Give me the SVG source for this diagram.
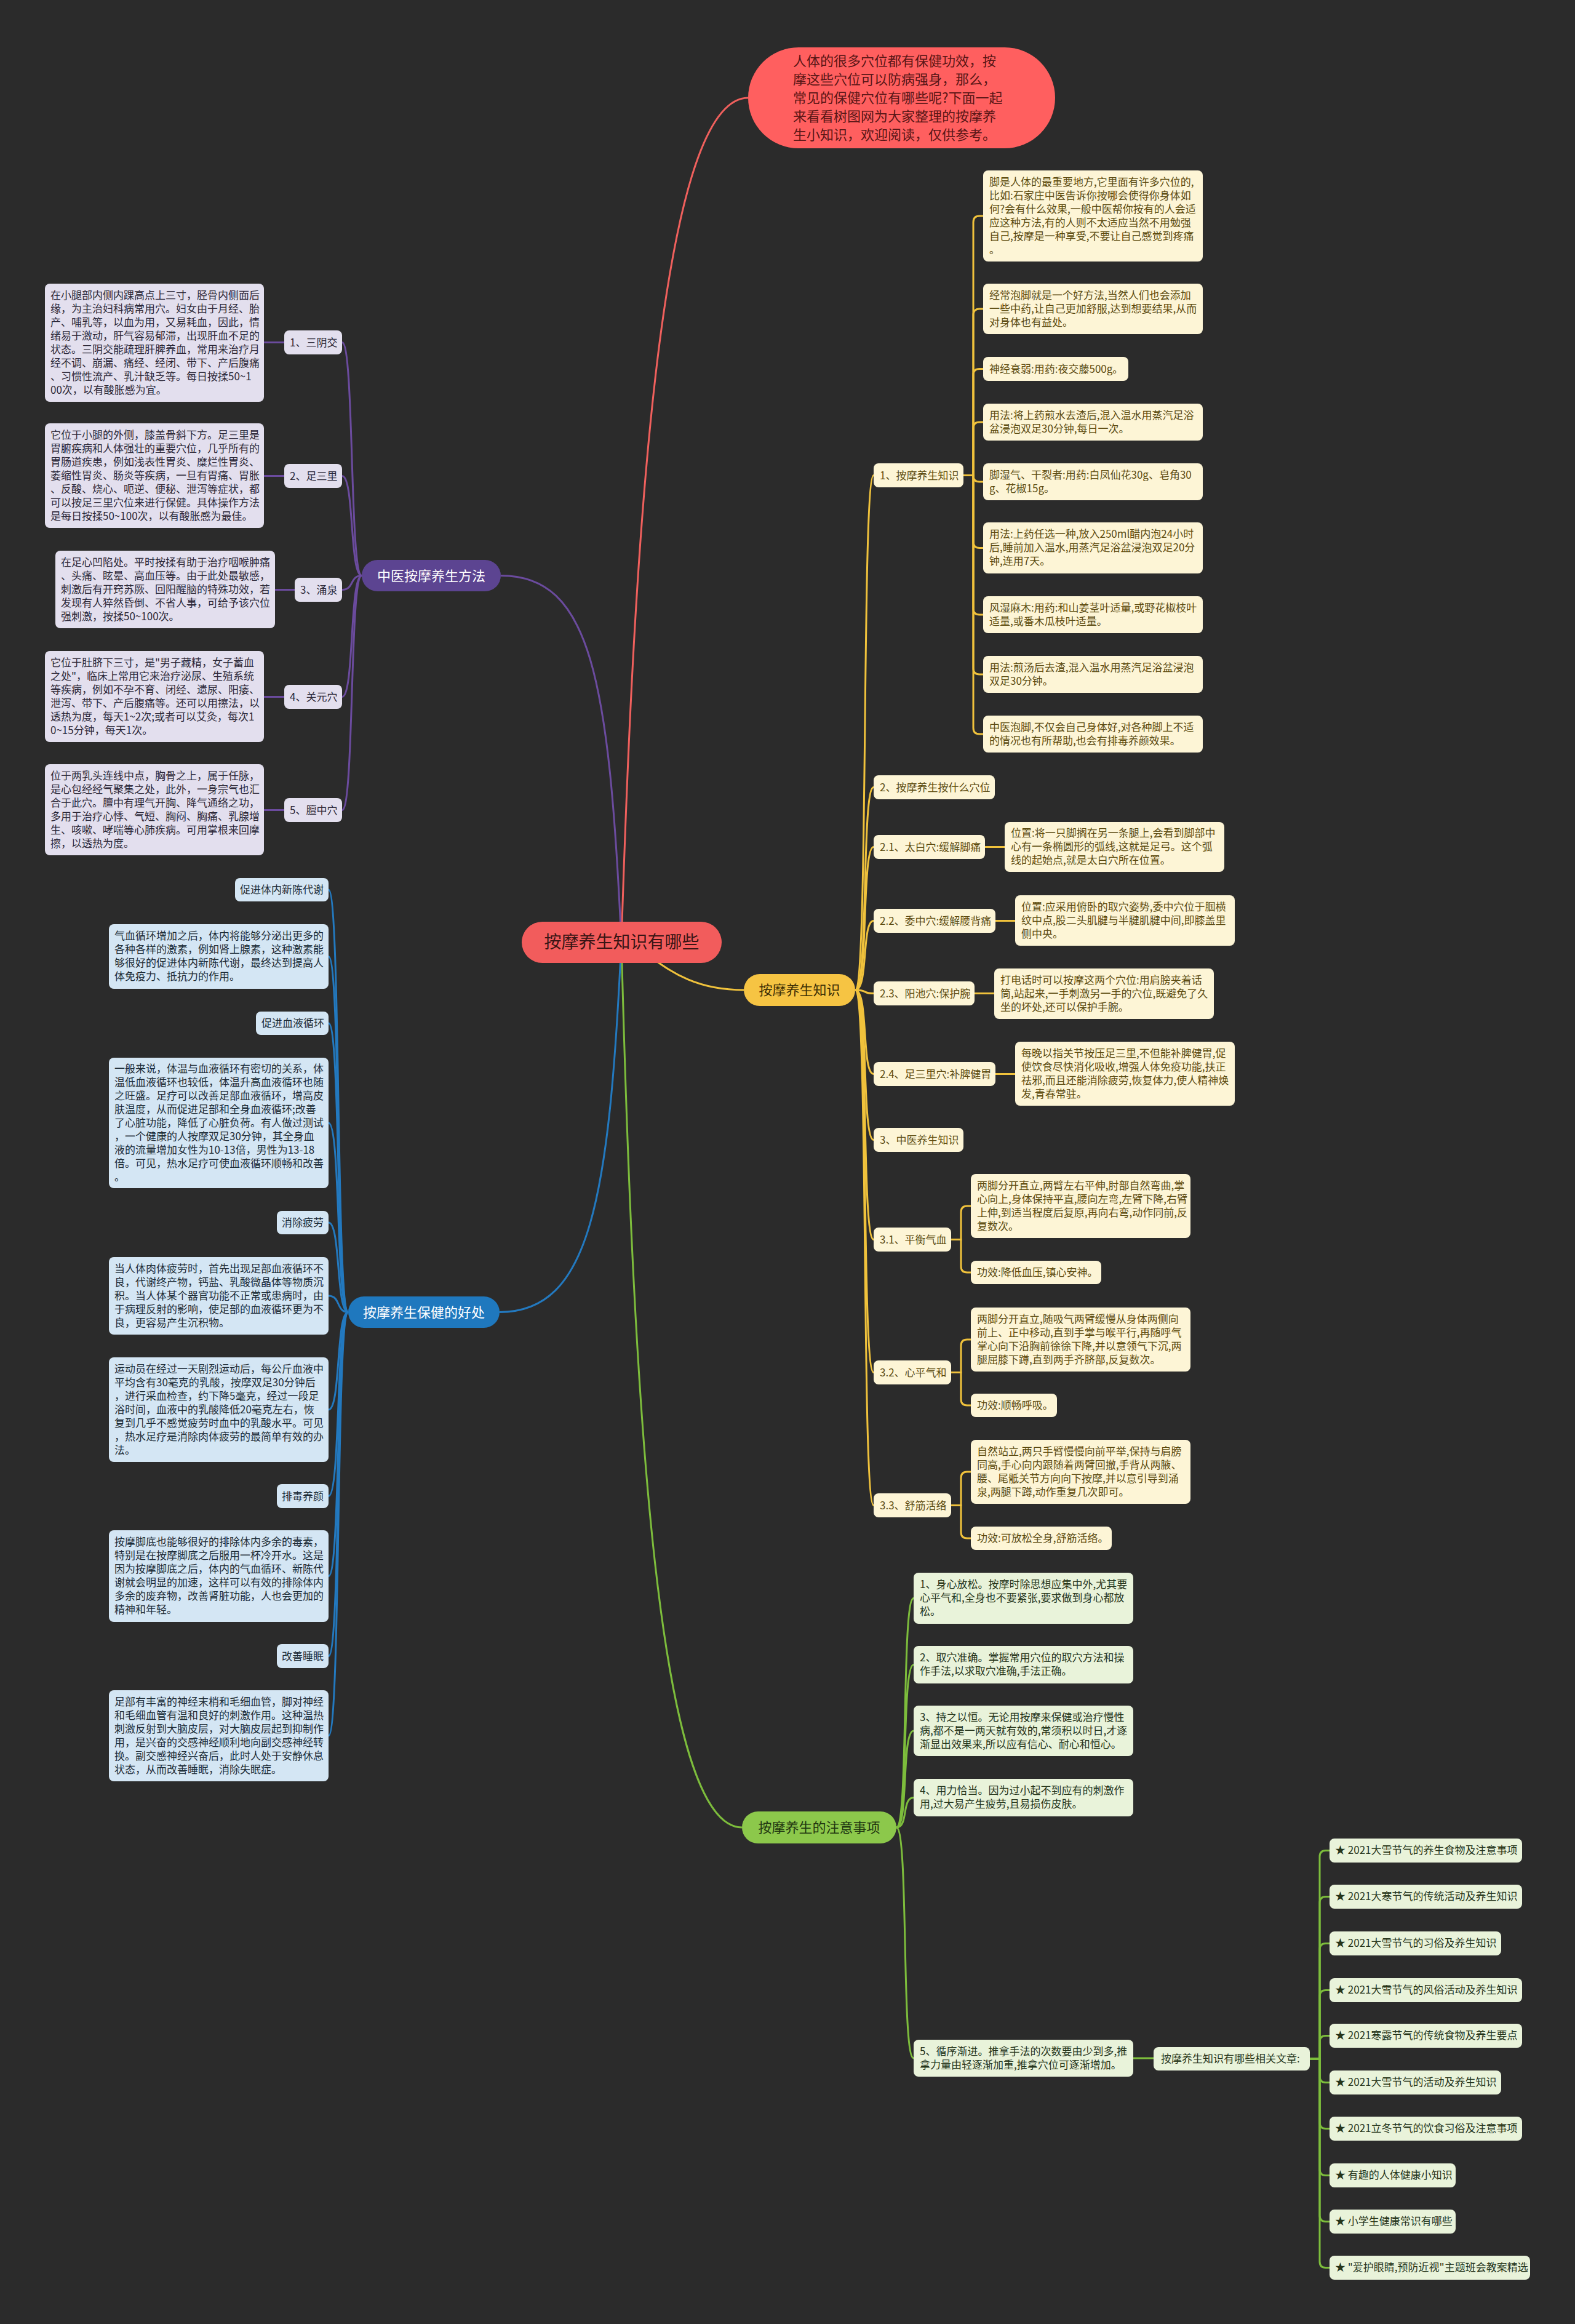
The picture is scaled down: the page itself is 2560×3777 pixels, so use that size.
<svg xmlns="http://www.w3.org/2000/svg" width="2560" height="3777" viewBox="0 0 2560 3777">
<style>
text{font-family:"Noto Sans CJK SC","Noto Sans","Liberation Sans",sans-serif;font-size:17px}
.ny{fill:#fdf5d6}
.np{fill:#e3dfee}
.nb{fill:#d4e6f4}
.ng{fill:#e9f3da}
.ty{fill:#5c4b10}
.tp{fill:#2c2838}
.tb{fill:#1c2b36}
.tg{fill:#25341a}
.main{font-size:22px;text-anchor:middle}
.cy{fill:none;stroke:#f0c23c;stroke-width:3}
.cg{fill:none;stroke:#7dbd3c;stroke-width:3}
.cp{fill:none;stroke:#6b4b9e;stroke-width:3}
.cb{fill:none;stroke:#2379bf;stroke-width:3}
.cr{fill:none;stroke:#f0605d;stroke-width:3}
</style>
<rect width="2560" height="3777" fill="#2b2b2b"/>

<g id="connectors">
<path class="cr" stroke-width="4" d="M1010 1531 C1030 900,1070 159,1216 159"/>
<path class="cy" stroke-width="4" d="M1010 1531 C1060 1540,1090 1609,1209 1609"/>
<path class="cg" stroke-width="4" d="M1010 1531 C1030 2300,1070 2970,1206 2970"/>
<path class="cp" stroke-width="4" d="M1010 1531 C990 1100,960 935.5,814 935.5"/>
<path class="cb" stroke-width="4" d="M1010 1531 C990 1950,960 2132.5,812 2132.5"/>

<path class="cy" d="M1390 1609 C1412 1609,1400 772.5,1420 772.5"/>
<path class="cy" d="M1390 1609 C1412 1609,1400 1279.5,1420 1279.5"/>
<path class="cy" d="M1390 1609 C1412 1609,1400 1376.5,1420 1376.5"/>
<path class="cy" d="M1390 1609 C1412 1609,1400 1496.5,1420 1496.5"/>
<path class="cy" d="M1390 1609 C1412 1609,1400 1614.5,1420 1614.5"/>
<path class="cy" d="M1390 1609 C1412 1609,1400 1745.5,1420 1745.5"/>
<path class="cy" d="M1390 1609 C1412 1609,1400 1852.5,1420 1852.5"/>
<path class="cy" d="M1390 1609 C1412 1609,1400 2014.5,1420 2014.5"/>
<path class="cy" d="M1390 1609 C1412 1609,1400 2230.5,1420 2230.5"/>
<path class="cy" d="M1390 1609 C1412 1609,1400 2446.5,1420 2446.5"/>

<path class="cy" d="M1566 772.5 H1582 V361 Q1582 351 1592 351 H1598"/>
<path class="cy" d="M1566 772.5 H1582 V512 Q1582 502 1592 502 H1598"/>
<path class="cy" d="M1566 772.5 H1582 V609.5 Q1582 599.5 1592 599.5 H1598"/>
<path class="cy" d="M1566 772.5 H1582 V696 Q1582 686 1592 686 H1598"/>
<path class="cy" d="M1566 772.5 H1582 V773 Q1582 783 1592 783 H1598"/>
<path class="cy" d="M1566 772.5 H1582 V880.5 Q1582 890.5 1592 890.5 H1598"/>
<path class="cy" d="M1566 772.5 H1582 V989 Q1582 999 1592 999 H1598"/>
<path class="cy" d="M1566 772.5 H1582 V1086 Q1582 1096 1592 1096 H1598"/>
<path class="cy" d="M1566 772.5 H1582 V1183 Q1582 1193 1592 1193 H1598"/>
<path class="cy" d="M1601 1376.5 H1633"/>
<path class="cy" d="M1618 1496.5 H1650"/>
<path class="cy" d="M1584 1614.5 H1616"/>
<path class="cy" d="M1618 1745.5 H1650"/>
<path class="cy" d="M1546 2014.5 H1562 V1970 Q1562 1960 1572 1960 H1578"/>
<path class="cy" d="M1546 2014.5 H1562 V2058 Q1562 2068 1572 2068 H1578"/>
<path class="cy" d="M1546 2230.5 H1562 V2187 Q1562 2177 1572 2177 H1578"/>
<path class="cy" d="M1546 2230.5 H1562 V2274 Q1562 2284 1572 2284 H1578"/>
<path class="cy" d="M1546 2446.5 H1562 V2402 Q1562 2392 1572 2392 H1578"/>
<path class="cy" d="M1546 2446.5 H1562 V2490 Q1562 2500 1572 2500 H1578"/>

<path class="cg" d="M1457 2970 C1477 2970,1465 2597.5,1485 2597.5"/>
<path class="cg" d="M1457 2970 C1477 2970,1465 2705.5,1485 2705.5"/>
<path class="cg" d="M1457 2970 C1477 2970,1465 2813,1485 2813"/>
<path class="cg" d="M1457 2970 C1477 2970,1465 2921.5,1485 2921.5"/>
<path class="cg" d="M1457 2970 C1477 2970,1465 3345,1485 3345"/>
<path class="cg" d="M1842 3345 H1875"/>
<path class="cg" d="M2129 3346 H2145 V3017.5 Q2145 3007.5 2155 3007.5 H2161"/>
<path class="cg" d="M2129 3346 H2145 V3092.5 Q2145 3082.5 2155 3082.5 H2161"/>
<path class="cg" d="M2129 3346 H2145 V3168.5 Q2145 3158.5 2155 3158.5 H2161"/>
<path class="cg" d="M2129 3346 H2145 V3244.5 Q2145 3234.5 2155 3234.5 H2161"/>
<path class="cg" d="M2129 3346 H2145 V3318.5 Q2145 3308.5 2155 3308.5 H2161"/>
<path class="cg" d="M2129 3346 H2145 V3374.5 Q2145 3384.5 2155 3384.5 H2161"/>
<path class="cg" d="M2129 3346 H2145 V3449.5 Q2145 3459.5 2155 3459.5 H2161"/>
<path class="cg" d="M2129 3346 H2145 V3525.5 Q2145 3535.5 2155 3535.5 H2161"/>
<path class="cg" d="M2129 3346 H2145 V3600.5 Q2145 3610.5 2155 3610.5 H2161"/>
<path class="cg" d="M2129 3346 H2145 V3675.5 Q2145 3685.5 2155 3685.5 H2161"/>

<path class="cp" d="M588 935.5 C568 935.5,576 556.5,556 556.5"/>
<path class="cp" d="M588 935.5 C568 935.5,576 773.5,556 773.5"/>
<path class="cp" d="M588 935.5 C568 935.5,576 958.5,556 958.5"/>
<path class="cp" d="M588 935.5 C568 935.5,576 1132.5,556 1132.5"/>
<path class="cp" d="M588 935.5 C568 935.5,576 1316.5,556 1316.5"/>
<path class="cp" d="M462 556.5 H429"/>
<path class="cp" d="M462 773.5 H429"/>
<path class="cp" d="M479 958.5 H447"/>
<path class="cp" d="M462 1132.5 H429"/>
<path class="cp" d="M462 1316.5 H429"/>

<path class="cb" d="M566 2132.5 C546 2132.5,554 1446,534 1446"/>
<path class="cb" d="M566 2132.5 C546 2132.5,554 1554.5,534 1554.5"/>
<path class="cb" d="M566 2132.5 C546 2132.5,554 1663,534 1663"/>
<path class="cb" d="M566 2132.5 C546 2132.5,554 1825,534 1825"/>
<path class="cb" d="M566 2132.5 C546 2132.5,554 1987,534 1987"/>
<path class="cb" d="M566 2132.5 C546 2132.5,554 2106,534 2106"/>
<path class="cb" d="M566 2132.5 C546 2132.5,554 2291,534 2291"/>
<path class="cb" d="M566 2132.5 C546 2132.5,554 2431.5,534 2431.5"/>
<path class="cb" d="M566 2132.5 C546 2132.5,554 2561.5,534 2561.5"/>
<path class="cb" d="M566 2132.5 C546 2132.5,554 2691.5,534 2691.5"/>
<path class="cb" d="M566 2132.5 C546 2132.5,554 2821,534 2821"/>
</g>

<g id="center">
<rect x="848" y="1498" width="325" height="67" rx="33.5" fill="#f25c5c"/>
<text x="1010.5" y="1541" text-anchor="middle" style="font-size:28px" fill="#3a1515">按摩养生知识有哪些</text>
</g>

<g id="intro">
<rect x="1216" y="77" width="499" height="164" rx="82" fill="#ff5f5f"/>
<text fill="#5a1616" style="font-size:22px">
<tspan x="1289" y="107">人体的很多穴位都有保健功效，按</tspan>
<tspan x="1289" y="137">摩这些穴位可以防病强身，那么，</tspan>
<tspan x="1289" y="167">常见的保健穴位有哪些呢?下面一起</tspan>
<tspan x="1289" y="197">来看看树图网为大家整理的按摩养</tspan>
<tspan x="1289" y="227">生小知识，欢迎阅读，仅供参考。</tspan>
</text>
</g>

<g id="main-yellow">
<rect x="1209" y="1583" width="181" height="52" rx="26" fill="#f6c443"/>
<text class="main" x="1299.5" y="1617" fill="#3b2e05">按摩养生知识</text>
</g>
<g id="main-green">
<rect x="1206" y="2944" width="251" height="52" rx="26" fill="#8cc84b"/>
<text class="main" x="1331.5" y="2978" fill="#1f3510">按摩养生的注意事项</text>
</g>
<g id="main-purple">
<rect x="588" y="910" width="226" height="51" rx="25.5" fill="#5c4491"/>
<text class="main" x="701" y="943.5" fill="#ffffff">中医按摩养生方法</text>
</g>
<g id="main-blue">
<rect x="566" y="2107" width="246" height="51" rx="25.5" fill="#1f78be"/>
<text class="main" x="689" y="2140.5" fill="#ffffff">按摩养生保健的好处</text>
</g>

<g id="y-l1"><rect class="ny" x="1420" y="753" width="146" height="39" rx="8"/><text class="ty" x="1430" y="778.5">1、按摩养生知识</text></g>
<g id="y-l2"><rect class="ny" x="1420" y="1260" width="197" height="39" rx="8"/><text class="ty" x="1430" y="1285.5">2、按摩养生按什么穴位</text></g>
<g id="y-l21"><rect class="ny" x="1420" y="1357" width="181" height="39" rx="8"/><text class="ty" x="1430" y="1382.5">2.1、太白穴:缓解脚痛</text></g>
<g id="y-l22"><rect class="ny" x="1420" y="1477" width="198" height="39" rx="8"/><text class="ty" x="1430" y="1502.5">2.2、委中穴:缓解腰背痛</text></g>
<g id="y-l23"><rect class="ny" x="1420" y="1595" width="164" height="39" rx="8"/><text class="ty" x="1430" y="1620.5">2.3、阳池穴:保护腕</text></g>
<g id="y-l24"><rect class="ny" x="1420" y="1726" width="198" height="39" rx="8"/><text class="ty" x="1430" y="1751.5">2.4、足三里穴:补脾健胃</text></g>
<g id="y-l3"><rect class="ny" x="1420" y="1833" width="146" height="39" rx="8"/><text class="ty" x="1430" y="1858.5">3、中医养生知识</text></g>
<g id="y-l31"><rect class="ny" x="1420" y="1995" width="126" height="39" rx="8"/><text class="ty" x="1430" y="2020.5">3.1、平衡气血</text></g>
<g id="y-l32"><rect class="ny" x="1420" y="2211" width="126" height="39" rx="8"/><text class="ty" x="1430" y="2236.5">3.2、心平气和</text></g>
<g id="y-l33"><rect class="ny" x="1420" y="2427" width="126" height="39" rx="8"/><text class="ty" x="1430" y="2452.5">3.3、舒筋活络</text></g>

<g id="y-n1"><rect class="ny" x="1598" y="277" width="357" height="148" rx="8"/><text class="ty">
<tspan x="1608" y="301.5">脚是人体的最重要地方,它里面有许多穴位的,</tspan>
<tspan x="1608" y="323.5">比如:石家庄中医告诉你按哪会使得你身体如</tspan>
<tspan x="1608" y="345.5">何?会有什么效果,一般中医帮你按有的人会适</tspan>
<tspan x="1608" y="367.5">应这种方法,有的人则不太适应当然不用勉强</tspan>
<tspan x="1608" y="389.5">自己,按摩是一种享受,不要让自己感觉到疼痛</tspan>
<tspan x="1608" y="411.5">。</tspan></text></g>
<g id="y-n2"><rect class="ny" x="1598" y="461" width="357" height="82" rx="8"/><text class="ty">
<tspan x="1608" y="485.5">经常泡脚就是一个好方法,当然人们也会添加</tspan>
<tspan x="1608" y="507.5">一些中药,让自己更加舒服,达到想要结果,从而</tspan>
<tspan x="1608" y="529.5">对身体也有益处。</tspan></text></g>
<g id="y-n3"><rect class="ny" x="1598" y="580" width="236" height="39" rx="8"/><text class="ty" x="1608" y="605.5">神经衰弱:用药:夜交藤500g。</text></g>
<g id="y-n4"><rect class="ny" x="1598" y="656" width="357" height="60" rx="8"/><text class="ty">
<tspan x="1608" y="680.5">用法:将上药煎水去渣后,混入温水用蒸汽足浴</tspan>
<tspan x="1608" y="702.5">盆浸泡双足30分钟,每日一次。</tspan></text></g>
<g id="y-n5"><rect class="ny" x="1598" y="753" width="357" height="60" rx="8"/><text class="ty">
<tspan x="1608" y="777.5">脚湿气、干裂者:用药:白凤仙花30g、皂角30</tspan>
<tspan x="1608" y="799.5">g、花椒15g。</tspan></text></g>
<g id="y-n6"><rect class="ny" x="1598" y="849" width="357" height="83" rx="8"/><text class="ty">
<tspan x="1608" y="874">用法:上药任选一种,放入250ml醋内泡24小时</tspan>
<tspan x="1608" y="896">后,睡前加入温水,用蒸汽足浴盆浸泡双足20分</tspan>
<tspan x="1608" y="918">钟,连用7天。</tspan></text></g>
<g id="y-n7"><rect class="ny" x="1598" y="969" width="357" height="60" rx="8"/><text class="ty">
<tspan x="1608" y="993.5">风湿麻木:用药:和山姜茎叶适量,或野花椒枝叶</tspan>
<tspan x="1608" y="1015.5">适量,或番木瓜枝叶适量。</tspan></text></g>
<g id="y-n8"><rect class="ny" x="1598" y="1066" width="357" height="60" rx="8"/><text class="ty">
<tspan x="1608" y="1090.5">用法:煎汤后去渣,混入温水用蒸汽足浴盆浸泡</tspan>
<tspan x="1608" y="1112.5">双足30分钟。</tspan></text></g>
<g id="y-n9"><rect class="ny" x="1598" y="1163" width="357" height="60" rx="8"/><text class="ty">
<tspan x="1608" y="1187.5">中医泡脚,不仅会自己身体好,对各种脚上不适</tspan>
<tspan x="1608" y="1209.5">的情况也有所帮助,也会有排毒养颜效果。</tspan></text></g>

<g id="y-n21"><rect class="ny" x="1633" y="1336" width="357" height="81" rx="8"/><text class="ty">
<tspan x="1643" y="1360">位置:将一只脚搁在另一条腿上,会看到脚部中</tspan>
<tspan x="1643" y="1382">心有一条椭圆形的弧线,这就是足弓。这个弧</tspan>
<tspan x="1643" y="1404">线的起始点,就是太白穴所在位置。</tspan></text></g>
<g id="y-n22"><rect class="ny" x="1650" y="1455" width="357" height="82" rx="8"/><text class="ty">
<tspan x="1660" y="1479.5">位置:应采用俯卧的取穴姿势,委中穴位于腘横</tspan>
<tspan x="1660" y="1501.5">纹中点,股二头肌腱与半腱肌腱中间,即膝盖里</tspan>
<tspan x="1660" y="1523.5">侧中央。</tspan></text></g>
<g id="y-n23"><rect class="ny" x="1616" y="1574" width="357" height="82" rx="8"/><text class="ty">
<tspan x="1626" y="1598.5">打电话时可以按摩这两个穴位:用肩膀夹着话</tspan>
<tspan x="1626" y="1620.5">筒,站起来,一手刺激另一手的穴位,既避免了久</tspan>
<tspan x="1626" y="1642.5">坐的坏处,还可以保护手腕。</tspan></text></g>
<g id="y-n24"><rect class="ny" x="1650" y="1693" width="357" height="104" rx="8"/><text class="ty">
<tspan x="1660" y="1717.5">每晚以指关节按压足三里,不但能补脾健胃,促</tspan>
<tspan x="1660" y="1739.5">使饮食尽快消化吸收,增强人体免疫功能,扶正</tspan>
<tspan x="1660" y="1761.5">祛邪,而且还能消除疲劳,恢复体力,使人精神焕</tspan>
<tspan x="1660" y="1783.5">发,青春常驻。</tspan></text></g>

<g id="y-n31a"><rect class="ny" x="1578" y="1908" width="357" height="104" rx="8"/><text class="ty">
<tspan x="1588" y="1932.5">两脚分开直立,两臂左右平伸,肘部自然弯曲,掌</tspan>
<tspan x="1588" y="1954.5">心向上,身体保持平直,腰向左弯,左臂下降,右臂</tspan>
<tspan x="1588" y="1976.5">上伸,到适当程度后复原,再向右弯,动作同前,反</tspan>
<tspan x="1588" y="1998.5">复数次。</tspan></text></g>
<g id="y-n31b"><rect class="ny" x="1578" y="2049" width="212" height="38" rx="8"/><text class="ty" x="1588" y="2073.5">功效:降低血压,镇心安神。</text></g>
<g id="y-n32a"><rect class="ny" x="1578" y="2125" width="357" height="104" rx="8"/><text class="ty">
<tspan x="1588" y="2149.5">两脚分开直立,随吸气两臂缓慢从身体两侧向</tspan>
<tspan x="1588" y="2171.5">前上、正中移动,直到手掌与喉平行,再随呼气</tspan>
<tspan x="1588" y="2193.5">掌心向下沿胸前徐徐下降,并以意领气下沉,两</tspan>
<tspan x="1588" y="2215.5">腿屈膝下蹲,直到两手齐脐部,反复数次。</tspan></text></g>
<g id="y-n32b"><rect class="ny" x="1578" y="2265" width="140" height="38" rx="8"/><text class="ty" x="1588" y="2289.5">功效:顺畅呼吸。</text></g>
<g id="y-n33a"><rect class="ny" x="1578" y="2340" width="357" height="104" rx="8"/><text class="ty">
<tspan x="1588" y="2364.5">自然站立,两只手臂慢慢向前平举,保持与肩膀</tspan>
<tspan x="1588" y="2386.5">同高,手心向内跟随着两臂回撤,手背从两腋、</tspan>
<tspan x="1588" y="2408.5">腰、尾骶关节方向向下按摩,并以意引导到涌</tspan>
<tspan x="1588" y="2430.5">泉,两腿下蹲,动作重复几次即可。</tspan></text></g>
<g id="y-n33b"><rect class="ny" x="1578" y="2481" width="229" height="38" rx="8"/><text class="ty" x="1588" y="2505.5">功效:可放松全身,舒筋活络。</text></g>

<g id="g-n1"><rect class="ng" x="1485" y="2556" width="357" height="83" rx="8"/><text class="tg">
<tspan x="1495" y="2581">1、身心放松。按摩时除思想应集中外,尤其要</tspan>
<tspan x="1495" y="2603">心平气和,全身也不要紧张,要求做到身心都放</tspan>
<tspan x="1495" y="2625">松。</tspan></text></g>
<g id="g-n2"><rect class="ng" x="1485" y="2675" width="357" height="61" rx="8"/><text class="tg">
<tspan x="1495" y="2700">2、取穴准确。掌握常用穴位的取穴方法和操</tspan>
<tspan x="1495" y="2722">作手法,以求取穴准确,手法正确。</tspan></text></g>
<g id="g-n3"><rect class="ng" x="1485" y="2772" width="357" height="82" rx="8"/><text class="tg">
<tspan x="1495" y="2796.5">3、持之以恒。无论用按摩来保健或治疗慢性</tspan>
<tspan x="1495" y="2818.5">病,都不是一两天就有效的,常须积以时日,才逐</tspan>
<tspan x="1495" y="2840.5">渐显出效果来,所以应有信心、耐心和恒心。</tspan></text></g>
<g id="g-n4"><rect class="ng" x="1485" y="2891" width="357" height="61" rx="8"/><text class="tg">
<tspan x="1495" y="2916">4、用力恰当。因为过小起不到应有的刺激作</tspan>
<tspan x="1495" y="2938">用,过大易产生疲劳,且易损伤皮肤。</tspan></text></g>
<g id="g-n5"><rect class="ng" x="1485" y="3315" width="357" height="60" rx="8"/><text class="tg">
<tspan x="1495" y="3339.5">5、循序渐进。推拿手法的次数要由少到多,推</tspan>
<tspan x="1495" y="3361.5">拿力量由轻逐渐加重,推拿穴位可逐渐增加。</tspan></text></g>
<g id="g-rel"><rect class="ng" x="1875" y="3327" width="254" height="38" rx="8"/><text class="tg" x="1887" y="3351.5">按摩养生知识有哪些相关文章:</text></g>
<g id="g-i1"><rect class="ng" x="2161" y="2988" width="313" height="39" rx="8"/><text class="tg" x="2170" y="3013">★ 2021大雪节气的养生食物及注意事项</text></g>
<g id="g-i2"><rect class="ng" x="2161" y="3063" width="313" height="39" rx="8"/><text class="tg" x="2170" y="3088">★ 2021大寒节气的传统活动及养生知识</text></g>
<g id="g-i3"><rect class="ng" x="2161" y="3139" width="279" height="39" rx="8"/><text class="tg" x="2170" y="3164">★ 2021大雪节气的习俗及养生知识</text></g>
<g id="g-i4"><rect class="ng" x="2161" y="3215" width="313" height="39" rx="8"/><text class="tg" x="2170" y="3240">★ 2021大雪节气的风俗活动及养生知识</text></g>
<g id="g-i5"><rect class="ng" x="2161" y="3289" width="313" height="39" rx="8"/><text class="tg" x="2170" y="3314">★ 2021寒露节气的传统食物及养生要点</text></g>
<g id="g-i6"><rect class="ng" x="2161" y="3365" width="279" height="39" rx="8"/><text class="tg" x="2170" y="3390">★ 2021大雪节气的活动及养生知识</text></g>
<g id="g-i7"><rect class="ng" x="2161" y="3440" width="313" height="39" rx="8"/><text class="tg" x="2170" y="3465">★ 2021立冬节气的饮食习俗及注意事项</text></g>
<g id="g-i8"><rect class="ng" x="2161" y="3516" width="205" height="39" rx="8"/><text class="tg" x="2170" y="3541">★ 有趣的人体健康小知识</text></g>
<g id="g-i9"><rect class="ng" x="2161" y="3591" width="205" height="39" rx="8"/><text class="tg" x="2170" y="3616">★ 小学生健康常识有哪些</text></g>
<g id="g-i10"><rect class="ng" x="2161" y="3666" width="326" height="39" rx="8"/><text class="tg" x="2170" y="3691">★ "爱护眼睛,预防近视"主题班会教案精选</text></g>

<g id="p-l1"><rect class="np" x="462" y="537" width="94" height="39" rx="8"/><text class="tp" x="471" y="562.5">1、三阴交</text></g>
<g id="p-l2"><rect class="np" x="462" y="754" width="94" height="39" rx="8"/><text class="tp" x="471" y="779.5">2、足三里</text></g>
<g id="p-l3"><rect class="np" x="479" y="939" width="77" height="39" rx="8"/><text class="tp" x="488" y="964.5">3、涌泉</text></g>
<g id="p-l4"><rect class="np" x="462" y="1113" width="94" height="39" rx="8"/><text class="tp" x="471" y="1138.5">4、关元穴</text></g>
<g id="p-l5"><rect class="np" x="462" y="1297" width="94" height="39" rx="8"/><text class="tp" x="471" y="1322.5">5、膻中穴</text></g>
<g id="p-n1"><rect class="np" x="73" y="461" width="356" height="192" rx="8"/><text class="tp">
<tspan x="82" y="485.5">在小腿部内侧内踝高点上三寸，胫骨内侧面后</tspan>
<tspan x="82" y="507.5">缘，为主治妇科病常用穴。妇女由于月经、胎</tspan>
<tspan x="82" y="529.5">产、哺乳等，以血为用，又易耗血，因此，情</tspan>
<tspan x="82" y="551.5">绪易于激动，肝气容易郁滞，出现肝血不足的</tspan>
<tspan x="82" y="573.5">状态。三阴交能疏理肝脾养血，常用来治疗月</tspan>
<tspan x="82" y="595.5">经不调、崩漏、痛经、经闭、带下、产后腹痛</tspan>
<tspan x="82" y="617.5">、习惯性流产、乳汁缺乏等。每日按揉50~1</tspan>
<tspan x="82" y="639.5">00次，以有酸胀感为宜。</tspan></text></g>
<g id="p-n2"><rect class="np" x="73" y="688" width="356" height="170" rx="8"/><text class="tp">
<tspan x="82" y="712.5">它位于小腿的外侧，膝盖骨斜下方。足三里是</tspan>
<tspan x="82" y="734.5">胃腑疾病和人体强壮的重要穴位，几乎所有的</tspan>
<tspan x="82" y="756.5">胃肠道疾患，例如浅表性胃炎、糜烂性胃炎、</tspan>
<tspan x="82" y="778.5">萎缩性胃炎、肠炎等疾病，一旦有胃痛、胃胀</tspan>
<tspan x="82" y="800.5">、反酸、烧心、呃逆、便秘、泄泻等症状，都</tspan>
<tspan x="82" y="822.5">可以按足三里穴位来进行保健。具体操作方法</tspan>
<tspan x="82" y="844.5">是每日按揉50~100次，以有酸胀感为最佳。</tspan></text></g>
<g id="p-n3"><rect class="np" x="90" y="895" width="357" height="126" rx="8"/><text class="tp">
<tspan x="99" y="919.5">在足心凹陷处。平时按揉有助于治疗咽喉肿痛</tspan>
<tspan x="99" y="941.5">、头痛、眩晕、高血压等。由于此处最敏感，</tspan>
<tspan x="99" y="963.5">刺激后有开窍苏厥、回阳醒脑的特殊功效，若</tspan>
<tspan x="99" y="985.5">发现有人猝然昏倒、不省人事，可给予该穴位</tspan>
<tspan x="99" y="1007.5">强刺激，按揉50~100次。</tspan></text></g>
<g id="p-n4"><rect class="np" x="73" y="1058" width="356" height="148" rx="8"/><text class="tp">
<tspan x="82" y="1082.5">它位于肚脐下三寸，是"男子藏精，女子蓄血</tspan>
<tspan x="82" y="1104.5">之处"，临床上常用它来治疗泌尿、生殖系统</tspan>
<tspan x="82" y="1126.5">等疾病，例如不孕不育、闭经、遗尿、阳痿、</tspan>
<tspan x="82" y="1148.5">泄泻、带下、产后腹痛等。还可以用擦法，以</tspan>
<tspan x="82" y="1170.5">透热为度，每天1~2次;或者可以艾灸，每次1</tspan>
<tspan x="82" y="1192.5">0~15分钟，每天1次。</tspan></text></g>
<g id="p-n5"><rect class="np" x="73" y="1242" width="356" height="148" rx="8"/><text class="tp">
<tspan x="82" y="1266.5">位于两乳头连线中点，胸骨之上，属于任脉，</tspan>
<tspan x="82" y="1288.5">是心包经经气聚集之处，此外，一身宗气也汇</tspan>
<tspan x="82" y="1310.5">合于此穴。膻中有理气开胸、降气通络之功，</tspan>
<tspan x="82" y="1332.5">多用于治疗心悸、气短、胸闷、胸痛、乳腺增</tspan>
<tspan x="82" y="1354.5">生、咳嗽、哮喘等心肺疾病。可用掌根来回摩</tspan>
<tspan x="82" y="1376.5">擦，以透热为度。</tspan></text></g>

<g id="b-l1"><rect class="nb" x="382" y="1427" width="152" height="38" rx="8"/><text class="tb" x="390" y="1452">促进体内新陈代谢</text></g>
<g id="b-n1"><rect class="nb" x="177" y="1502" width="357" height="105" rx="8"/><text class="tb">
<tspan x="186" y="1527">气血循环增加之后，体内将能够分泌出更多的</tspan>
<tspan x="186" y="1549">各种各样的激素，例如肾上腺素，这种激素能</tspan>
<tspan x="186" y="1571">够很好的促进体内新陈代谢，最终达到提高人</tspan>
<tspan x="186" y="1593">体免疫力、抵抗力的作用。</tspan></text></g>
<g id="b-l2"><rect class="nb" x="416" y="1644" width="118" height="38" rx="8"/><text class="tb" x="425" y="1669">促进血液循环</text></g>
<g id="b-n2"><rect class="nb" x="177" y="1719" width="357" height="212" rx="8"/><text class="tb">
<tspan x="186" y="1742.5">一般来说，体温与血液循环有密切的关系，体</tspan>
<tspan x="186" y="1764.5">温低血液循环也较低，体温升高血液循环也随</tspan>
<tspan x="186" y="1786.5">之旺盛。足疗可以改善足部血液循环，增高皮</tspan>
<tspan x="186" y="1808.5">肤温度，从而促进足部和全身血液循环;改善</tspan>
<tspan x="186" y="1830.5">了心脏功能，降低了心脏负荷。有人做过测试</tspan>
<tspan x="186" y="1852.5">，一个健康的人按摩双足30分钟，其全身血</tspan>
<tspan x="186" y="1874.5">液的流量增加女性为10-13倍，男性为13-18</tspan>
<tspan x="186" y="1896.5">倍。可见，热水足疗可使血液循环顺畅和改善</tspan>
<tspan x="186" y="1918.5">。</tspan></text></g>
<g id="b-l3"><rect class="nb" x="450" y="1968" width="84" height="38" rx="8"/><text class="tb" x="458" y="1993">消除疲劳</text></g>
<g id="b-n3"><rect class="nb" x="177" y="2043" width="357" height="126" rx="8"/><text class="tb">
<tspan x="186" y="2067.5">当人体肉体疲劳时，首先出现足部血液循环不</tspan>
<tspan x="186" y="2089.5">良，代谢终产物，钙盐、乳酸微晶体等物质沉</tspan>
<tspan x="186" y="2111.5">积。当人体某个器官功能不正常或患病时，由</tspan>
<tspan x="186" y="2133.5">于病理反射的影响，使足部的血液循环更为不</tspan>
<tspan x="186" y="2155.5">良，更容易产生沉积物。</tspan></text></g>
<g id="b-n4"><rect class="nb" x="177" y="2206" width="357" height="170" rx="8"/><text class="tb">
<tspan x="186" y="2230.5">运动员在经过一天剧烈运动后，每公斤血液中</tspan>
<tspan x="186" y="2252.5">平均含有30毫克的乳酸，按摩双足30分钟后</tspan>
<tspan x="186" y="2274.5">，进行采血检查，约下降5毫克，经过一段足</tspan>
<tspan x="186" y="2296.5">浴时间，血液中的乳酸降低20毫克左右，恢</tspan>
<tspan x="186" y="2318.5">复到几乎不感觉疲劳时血中的乳酸水平。可见</tspan>
<tspan x="186" y="2340.5">，热水足疗是消除肉体疲劳的最简单有效的办</tspan>
<tspan x="186" y="2362.5">法。</tspan></text></g>
<g id="b-l4"><rect class="nb" x="450" y="2412" width="84" height="39" rx="8"/><text class="tb" x="458" y="2437.5">排毒养颜</text></g>
<g id="b-n5"><rect class="nb" x="177" y="2487" width="357" height="149" rx="8"/><text class="tb">
<tspan x="186" y="2512">按摩脚底也能够很好的排除体内多余的毒素，</tspan>
<tspan x="186" y="2534">特别是在按摩脚底之后服用一杯冷开水。这是</tspan>
<tspan x="186" y="2556">因为按摩脚底之后，体内的气血循环、新陈代</tspan>
<tspan x="186" y="2578">谢就会明显的加速，这样可以有效的排除体内</tspan>
<tspan x="186" y="2600">多余的废弃物，改善肾脏功能，人也会更加的</tspan>
<tspan x="186" y="2622">精神和年轻。</tspan></text></g>
<g id="b-l5"><rect class="nb" x="450" y="2672" width="84" height="39" rx="8"/><text class="tb" x="458" y="2697.5">改善睡眠</text></g>
<g id="b-n6"><rect class="nb" x="177" y="2747" width="357" height="148" rx="8"/><text class="tb">
<tspan x="186" y="2771.5">足部有丰富的神经末梢和毛细血管，脚对神经</tspan>
<tspan x="186" y="2793.5">和毛细血管有温和良好的刺激作用。这种温热</tspan>
<tspan x="186" y="2815.5">刺激反射到大脑皮层，对大脑皮层起到抑制作</tspan>
<tspan x="186" y="2837.5">用，是兴奋的交感神经顺利地向副交感神经转</tspan>
<tspan x="186" y="2859.5">换。副交感神经兴奋后，此时人处于安静休息</tspan>
<tspan x="186" y="2881.5">状态，从而改善睡眠，消除失眠症。</tspan></text></g>
</svg>
